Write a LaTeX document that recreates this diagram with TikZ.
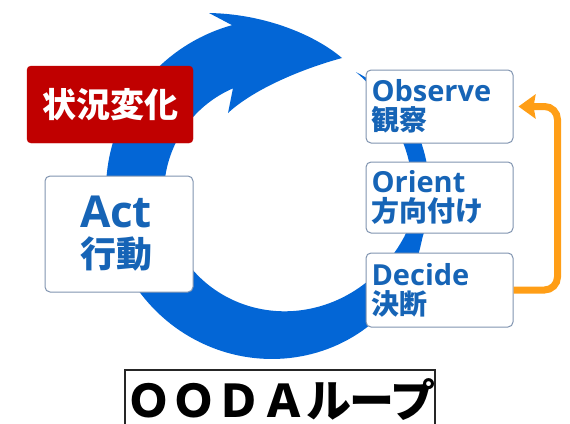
\documentclass[tikz,border=0pt]{standalone}
\usepackage{fontspec}
\setmainfont{Open Sans}
\newfontfamily\jp{Noto Sans CJK JP}
\newfontfamily\jppalt{Noto Sans CJK JP}[RawFeature=+palt]
\usetikzlibrary{arrows.meta}
\definecolor{ringblue}{RGB}{3,102,214}
\definecolor{txtblue}{RGB}{22,100,182}
\definecolor{boxedge}{RGB}{128,148,176}
\definecolor{alertred}{RGB}{192,0,0}
\definecolor{loopor}{RGB}{255,158,22}
\begin{document}
\begin{tikzpicture}[x=1pt,y=-1pt,
  declare function={wd(\s)=17*min(\s/30,1)+44*max(0,1-exp(-(\s-75)/60));
                    ro(\t)=143+0.5*wd(57-\t);
                    ri(\t)=143-0.5*wd(57-\t);},
  wbox/.style={draw=boxedge, line width=1pt, fill=white, rounded corners=5pt,
               text=txtblue, inner sep=0pt, align=left},
  redbox/.style={draw=alertred, fill=alertred, rounded corners=4pt, text=white,
               inner sep=0pt, font=\jp\bfseries\fontsize{34}{34}\selectfont},
  titlebox/.style={draw=black!85, line width=1.5pt, fill=white, inner sep=0pt,
               font=\jp\bfseries\fontsize{45}{45}\selectfont},
  feedback/.style={draw=loopor, line width=7pt, rounded corners=13pt, line cap=butt,
               -{Stealth[length=17pt,width=24pt,inset=2pt]}, shorten >=5pt}
]
\useasboundingbox (0,0) rectangle (570,423);
% ring with arrow head
\fill[ringblue]
  plot[domain=57:-254.6, samples=160, variable=\t]
     ({278+ro(\t)*cos(\t)},{192-ro(\t)*sin(\t)})
  -- (209,13) .. controls (265,14) and (315,35) .. (342,58)
  .. controls (305,68) and (255,88) .. (228,113)
  -- plot[domain=-246.5:57, samples=160, variable=\t]
     ({278+ri(\t)*cos(\t)},{192-ri(\t)*sin(\t)})
  -- cycle;
% boxes
\node[redbox, minimum width=166pt, minimum height=77pt] (change) at (110,104.5) {状況変化};
\node[wbox, minimum width=148pt, minimum height=116pt, text width=78pt,
      font=\bfseries\fontsize{44}{40}\selectfont] (act) at (119,234)
      {Act\\{\jp\fontsize{36}{40}\selectfont 行動}};
\node[wbox, minimum width=147pt, minimum height=73pt, text width=136pt,
      font=\bfseries\fontsize{29}{29}\selectfont] (observe) at (439.5,106.5)
      {Observe\\{\jp\fontsize{28}{29}\selectfont 観察}};
\node[wbox, minimum width=147pt, minimum height=71pt, text width=136pt,
      font=\bfseries\fontsize{29}{29}\selectfont] (orient) at (439.5,197.5)
      {Orient\\{\jp\fontsize{28}{29}\selectfont 方向付け}};
\node[wbox, minimum width=147pt, minimum height=74pt, text width=136pt,
      font=\bfseries\fontsize{29}{29}\selectfont] (decide) at (439.5,290)
      {Decide\\{\jp\fontsize{28}{29}\selectfont 決断}};
% feedback arrow
\draw[feedback] (decide.east) -- ++(44,0) |- (observe.east);
% title
\node[titlebox, minimum width=310pt, minimum height=60pt] (title) at (280,400)
      {ＯＯＤＡ{\jppalt ループ}};
\end{tikzpicture}
\end{document}
